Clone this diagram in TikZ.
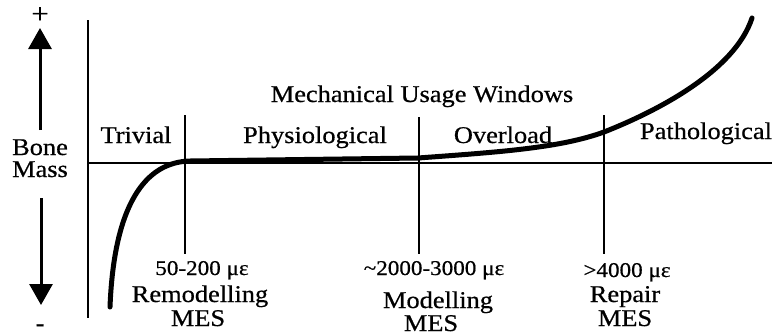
\documentclass[tikz,border=0pt]{standalone}
\usepackage{fontspec}
\setmainfont{Liberation Serif}[FakeStretch=1.1,FakeBold=0.6]
\usetikzlibrary{arrows.meta}

\tikzset{
  axis/.style={line width=2.6pt},
  window/.style={line width=1.6pt},
  usage/.style={line width=5pt, line cap=round},
  bigarrow/.style={line width=3pt, -{Triangle[width=23pt,length=21pt]}},
  lbl/.style={font=\fontsize{24}{20}\selectfont, inner sep=0pt, anchor=base},
  strain/.style={font=\fontsize{21}{20}\selectfont, inner sep=0pt, anchor=base},
}

\begin{document}
\begin{tikzpicture}[x=1pt,y=-1pt]
  \useasboundingbox (0,0) rectangle (776,335);

  % axes
  \coordinate (top) at (88,20);
  \coordinate (bot) at (88,318);
  \coordinate (origin) at (88,163);
  \coordinate (xend) at (772,163);
  \draw[axis] (top) -- (bot);
  \draw[axis] (origin) -- (xend);

  % window borders
  \foreach \n/\x/\t in {1/185/115,2/419/117,3/604/115}{
    \coordinate (wt\n) at (\x,\t);
    \coordinate (wb\n) at (\x,254);
    \draw[window] (wt\n) -- (wb\n);
  }

  % bone mass response
  \draw[usage] (110,307) .. controls (114,205) and (145,162) .. (190,161) -- (418,158)
    .. controls (500,152) and (560,148) .. (604,132)
    .. controls (660,110) and (735,70) .. (752,18);

  % bone mass arrows
  \node[lbl] (plus) at (40,23) {\fontsize{28}{20}\selectfont +};
  \node[lbl] (bone) at (40,155) {Bone};
  \node[lbl] (mass) at (40,177) {Mass};
  \node[lbl] (minus) at (40,331) {-};
  \coordinate (uptail) at (40,130);
  \coordinate (uptip) at (40,28);
  \coordinate (dntail) at (41,198);
  \coordinate (dntip) at (41,305);
  \draw[bigarrow] (uptail) -- (uptip);
  \draw[bigarrow] (dntail) -- (dntip);

  % windows
  \node[lbl] (title) at (422,102) {Mechanical Usage Windows};
  \node[lbl] (trivial) at (136,143) {Trivial};
  \node[lbl] (physio) at (315,143) {Physiological};
  \node[lbl] (overload) at (503,143) {Overload};
  \node[lbl] (patho) at (706,139) {Pathological};

  % set points
  \node[strain] (s1) at (202,275) {50-200 με};
  \node[lbl] (n1) at (200,302) {Remodelling};
  \node[lbl] (m1) at (198,326) {MES};
  \node[strain] (s2) at (434,275) {\textasciitilde2000-3000 με};
  \node[lbl] (n2) at (438,308) {Modelling};
  \node[lbl] (m2) at (431,331) {MES};
  \node[strain] (s3) at (627,277) {>4000 με};
  \node[lbl] (n3) at (625,302) {Repair};
  \node[lbl] (m3) at (625,326) {MES};
\end{tikzpicture}
\end{document}
